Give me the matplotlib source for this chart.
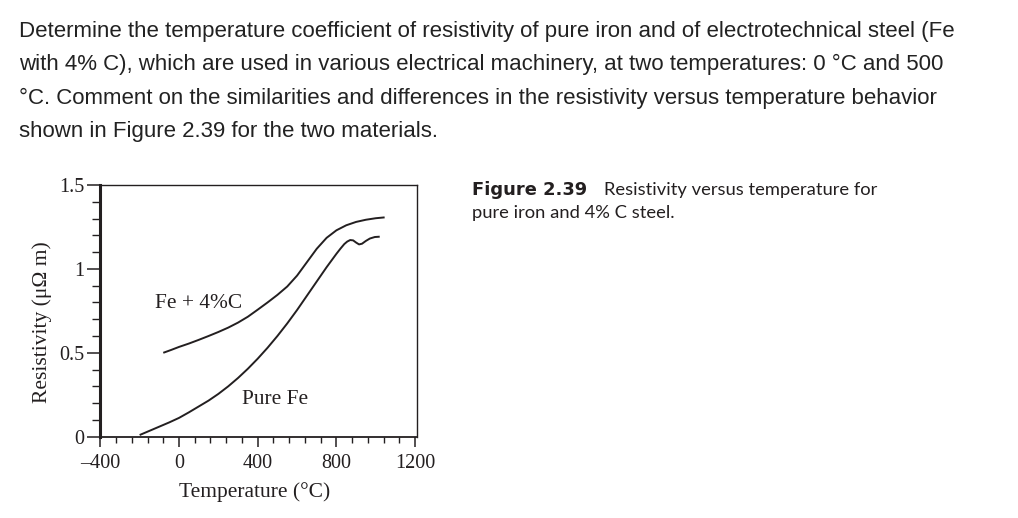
import matplotlib
matplotlib.use("Agg")
import matplotlib.pyplot as plt
from matplotlib.ticker import FixedLocator, MultipleLocator

# ---- data ----
pure_fe_T = [-200, -150, -100, -50, 0, 50, 100, 150, 200, 250, 300, 350, 400, 450, 500,
             550, 600, 650, 700, 750, 800, 820, 840, 855, 870, 885, 900, 915, 930, 950,
             970, 995, 1020]
pure_fe_rho = [0.01, 0.035, 0.06, 0.085, 0.112, 0.145, 0.18, 0.215, 0.255, 0.30, 0.35, 0.405,
               0.465, 0.53, 0.60, 0.675, 0.755, 0.84, 0.925, 1.01, 1.09, 1.12, 1.148, 1.163,
               1.172, 1.17, 1.157, 1.146, 1.15, 1.167, 1.181, 1.19, 1.192]

steel_T = [-80, -40, 0, 50, 100, 150, 200, 250, 300, 350, 400, 450, 500, 550, 600, 650,
           700, 750, 800, 850, 900, 950, 1000, 1045]
steel_rho = [0.50, 0.517, 0.535, 0.555, 0.577, 0.60, 0.624, 0.65, 0.68, 0.715, 0.757, 0.80,
             0.845, 0.895, 0.96, 1.04, 1.12, 1.185, 1.23, 1.26, 1.28, 1.293, 1.302, 1.307]

x_ticks = [-400, 0, 400, 800, 1200]
x_tick_labels = ["\u2013400", "0", "400", "800", "1200"]
y_ticks = [0, 0.5, 1, 1.5]
y_tick_labels = ["0", "0.5", "1", "1.5"]

paragraph = [
    "Determine the temperature coefficient of resistivity of pure iron and of electrotechnical steel (Fe",
    "with 4% C), which are used in various electrical machinery, at two temperatures: 0 \u00b0C and 500",
    "\u00b0C. Comment on the similarities and differences in the resistivity versus temperature behavior",
    "shown in Figure 2.39 for the two materials.",
]
caption_bold = "Figure 2.39"
caption_rest = "Resistivity versus temperature for"
caption_line2 = "pure iron and 4% C steel."

# ---- figure ----
W, H = 1018, 518
fig = plt.figure(figsize=(W / 100, H / 100), dpi=100)
fig.patch.set_facecolor("white")

ink = "#231f20"
serif = ["Liberation Serif", "DejaVu Serif"]

# paragraph
baselines = [36.7, 70.2, 103.6, 137.5]
for line, yb in zip(paragraph, baselines):
    fig.text(19 / W, 1 - yb / H, line, fontsize=16.0, family="Liberation Sans",
             color="#222222", va="baseline", ha="left")

# axes
left, right, top, bottom = 100.3, 416.7, 185.0, 436.7
ax = fig.add_axes([left / W, 1 - bottom / H, (right - left) / W, (bottom - top) / H])
ax.plot(steel_T, steel_rho, color=ink, lw=1.4, solid_capstyle="butt", solid_joinstyle="round")
ax.plot(pure_fe_T, pure_fe_rho, color=ink, lw=1.4, solid_capstyle="butt", solid_joinstyle="round")

ax.set_xlim(-400, 1208)
ax.set_ylim(0, 1.5)

ax.xaxis.set_major_locator(FixedLocator(x_ticks))
ax.set_xticklabels(x_tick_labels)
ax.xaxis.set_minor_locator(MultipleLocator(80))
ax.yaxis.set_major_locator(FixedLocator(y_ticks))
ax.set_yticklabels(y_tick_labels)
ax.yaxis.set_minor_locator(MultipleLocator(0.1))

ax.tick_params(axis="x", which="major", direction="out", length=7.5, width=1.1,
               color=ink, labelsize=14.5, pad=5, labelcolor=ink)
ax.tick_params(axis="x", which="minor", direction="out", length=4.5, width=1.0, color=ink)
ax.tick_params(axis="y", which="major", direction="out", length=9.5, width=1.1,
               color=ink, labelsize=14.5, pad=2, labelcolor=ink)
ax.tick_params(axis="y", which="minor", direction="out", length=5.5, width=1.0, color=ink)
for lab in ax.get_xticklabels() + ax.get_yticklabels():
    lab.set_family(serif)

ax.spines["left"].set_linewidth(2.2)
ax.spines["bottom"].set_linewidth(1.3)
ax.spines["top"].set_linewidth(1.0)
ax.spines["right"].set_linewidth(1.0)
for s in ax.spines.values():
    s.set_color(ink)

ax.text(98, 0.795, "Fe + 4%C", family=serif, fontsize=15.4, color=ink, ha="center", va="center")
ax.text(487, 0.22, "Pure Fe", family=serif, fontsize=15.4, color=ink, ha="center", va="center")

fig.text(41.7 / W, 1 - 321.7 / H, "Resistivity (\u03bc\u03a9 m)", family=serif, fontsize=15.5,
         color=ink, rotation=90, ha="center", va="center")
fig.text(255 / W, 1 - 492 / H, "Temperature (\u00b0C)", family=serif, fontsize=15.5,
         color=ink, ha="center", va="center")

# caption
fig.text(471.5 / W, 1 - 194.5 / H, caption_bold, family="DejaVu Sans", fontsize=12.9,
         weight="bold", color=ink, va="baseline", ha="left")
fig.text(604 / W, 1 - 194.5 / H, caption_rest, family="Lato", fontsize=13.2,
         color=ink, va="baseline", ha="left")
fig.text(471.5 / W, 1 - 218 / H, caption_line2, family="Lato", fontsize=13.2,
         color=ink, va="baseline", ha="left")

fig.savefig("out.png", dpi=100, facecolor="white")
